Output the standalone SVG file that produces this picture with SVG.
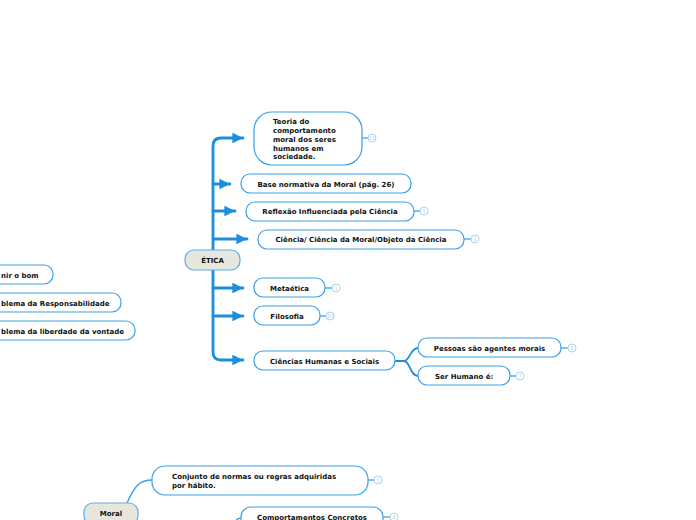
<svg xmlns="http://www.w3.org/2000/svg" width="696" height="520" viewBox="0 0 696 520">
<defs>
<marker id="ah" viewBox="0 0 10 10" refX="10" refY="5" markerWidth="4" markerHeight="3.8" orient="auto" markerUnits="strokeWidth">
<path d="M0,0 L10,5 L0,10 z" fill="#1b8fdd"/>
</marker>
<style>
.n{fill:#fff;stroke:#3a9fe6;stroke-width:1.2}
.r{fill:#e6e7dc;stroke:#5aaee8;stroke-width:1.2}
.t{font-family:"DejaVu Sans",Verdana,sans-serif;font-weight:bold;font-size:7px;fill:#111}
.tc{text-anchor:middle}
.br{fill:none;stroke:#1b8fdd;stroke-width:2.8;stroke-linecap:round}
.th{fill:none;stroke:#3a9fe6;stroke-width:1.4}
.bl{stroke:#4aa6e6;stroke-width:1.4}
.bc{fill:#fff;stroke:#a7d3f4;stroke-width:1}
.bt{font-family:"DejaVu Sans",sans-serif;font-size:5px;fill:#a7d3f4;text-anchor:middle}
</style>
</defs>
<rect width="696" height="520" fill="#fff"/>
<g id="connectors">
<path class="br" d="M213,250 V146 Q213,138 221,138 H243" marker-end="url(#ah)"/>
<path class="br" d="M213,184 H230" marker-end="url(#ah)"/>
<path class="br" d="M213,211 H235" marker-end="url(#ah)"/>
<path class="br" d="M213,239 H247" marker-end="url(#ah)"/>
<path class="br" d="M213,270 V352 Q213,360 221,360 H243" marker-end="url(#ah)"/>
<path class="br" d="M213,288 H243" marker-end="url(#ah)"/>
<path class="br" d="M213,316 H243" marker-end="url(#ah)"/>
<path fill="none" stroke="#1b8fdd" stroke-width="1.8" d="M395,361 H404 C410,361 410,348 418,348"/>
<path fill="none" stroke="#1b8fdd" stroke-width="1.8" d="M404,361 C410,361 410,376 418,376"/>
<path class="th" d="M127,503 C135,485 140,480 152,480"/>
<path class="th" d="M230,530 C236,522 236,518 241,518"/>
</g>
<g id="etica"><rect class="r" x="185" y="250" width="55" height="20" rx="9"/><text class="t tc" x="212.5" y="263">ÉTICA</text></g>
<g id="teoria"><rect class="n" x="254" y="112" width="108" height="53" rx="18"/>
<text class="t" x="273" y="124">Teoria do</text><text class="t" x="273" y="133">comportamento</text><text class="t" x="273" y="142">moral dos seres</text><text class="t" x="273" y="151">humanos em</text><text class="t" x="273" y="159">sociedade.</text>
<line class="bl" x1="362" y1="138" x2="368" y2="138"/><circle class="bc" cx="372" cy="138" r="4"/><text class="bt" x="372" y="140">11</text></g>
<g id="base"><rect class="n" x="241" y="174" width="170" height="19" rx="9"/><text class="t tc" x="326" y="186.5">Base normativa da Moral (pág. 26)</text></g>
<g id="reflexao"><rect class="n" x="246" y="202" width="168" height="19" rx="9"/><text class="t tc" x="330" y="213.5">Reflexão Influenciada pela Ciência</text>
<line class="bl" x1="414" y1="211" x2="420" y2="211"/><circle class="bc" cx="424" cy="211" r="4"/><text class="bt" x="424" y="213">1</text></g>
<g id="ciencia"><rect class="n" x="258" y="230" width="206" height="19" rx="9"/><text class="t tc" x="361" y="241.5">Ciência/ Ciência da Moral/Objeto da Ciência</text>
<line class="bl" x1="464" y1="239" x2="471" y2="239"/><circle class="bc" cx="475" cy="239" r="4"/><text class="bt" x="475" y="241">1</text></g>
<g id="metaetica"><rect class="n" x="254" y="278" width="71" height="19" rx="9"/><text class="t tc" x="289.5" y="290.5">Metaética</text>
<line class="bl" x1="325" y1="288" x2="332" y2="288"/><circle class="bc" cx="336" cy="288" r="4"/><text class="bt" x="336" y="290">1</text></g>
<g id="filosofia"><rect class="n" x="254" y="306" width="66" height="19" rx="9"/><text class="t tc" x="287" y="318.5">Filosofia</text>
<line class="bl" x1="320" y1="316" x2="326" y2="316"/><circle class="bc" cx="330" cy="316" r="4"/><text class="bt" x="330" y="318">10</text></g>
<g id="cienciashumanas"><rect class="n" x="254" y="351" width="141" height="19" rx="9"/><text class="t tc" x="324.5" y="363.5">Ciências Humanas e Sociais</text></g>
<g id="pessoas"><rect class="n" x="418" y="338" width="143" height="19" rx="9"/><text class="t tc" x="489.5" y="350.5">Pessoas são agentes morais</text>
<line class="bl" x1="561" y1="348" x2="568" y2="348"/><circle class="bc" cx="572" cy="348" r="4"/><text class="bt" x="572" y="350">8</text></g>
<g id="serhumano"><rect class="n" x="418" y="366" width="92" height="19" rx="9"/><text class="t" x="435" y="378.5">Ser Humano é:</text>
<line class="bl" x1="510" y1="376" x2="516" y2="376"/><circle class="bc" cx="520" cy="376" r="4"/><text class="bt" x="520" y="378">7</text></g>
<g id="definir"><rect class="n" x="-60" y="265" width="113" height="19" rx="9"/><text class="t" x="1" y="277.5">nir o bom</text></g>
<g id="responsabilidade"><rect class="n" x="-60" y="293" width="181" height="19" rx="9"/><text class="t" x="1" y="305.5">blema da Responsabilidade</text></g>
<g id="liberdade"><rect class="n" x="-60" y="321" width="195" height="19" rx="9"/><text class="t" x="1" y="333.5">blema da liberdade da vontade</text></g>
<g id="moral"><rect class="r" x="84" y="503" width="54" height="22" rx="9"/><text class="t tc" x="111" y="515.5">Moral</text></g>
<g id="conjunto"><rect class="n" x="152" y="466" width="216" height="29" rx="13"/>
<text class="t" x="172" y="479">Conjunto de normas ou regras adquiridas</text><text class="t" x="172" y="488">por hábito.</text>
<line class="bl" x1="368" y1="480" x2="374" y2="480"/><circle class="bc" cx="378" cy="480" r="4"/><text class="bt" x="378" y="482">5</text></g>
<g id="comportamentos"><rect class="n" x="241" y="507" width="142" height="25" rx="10"/><text class="t tc" x="312" y="519.5">Comportamentos Concretos</text>
<line class="bl" x1="383" y1="517" x2="390" y2="517"/><circle class="bc" cx="394" cy="517" r="4"/><text class="bt" x="394" y="519">8</text></g>
</svg>
